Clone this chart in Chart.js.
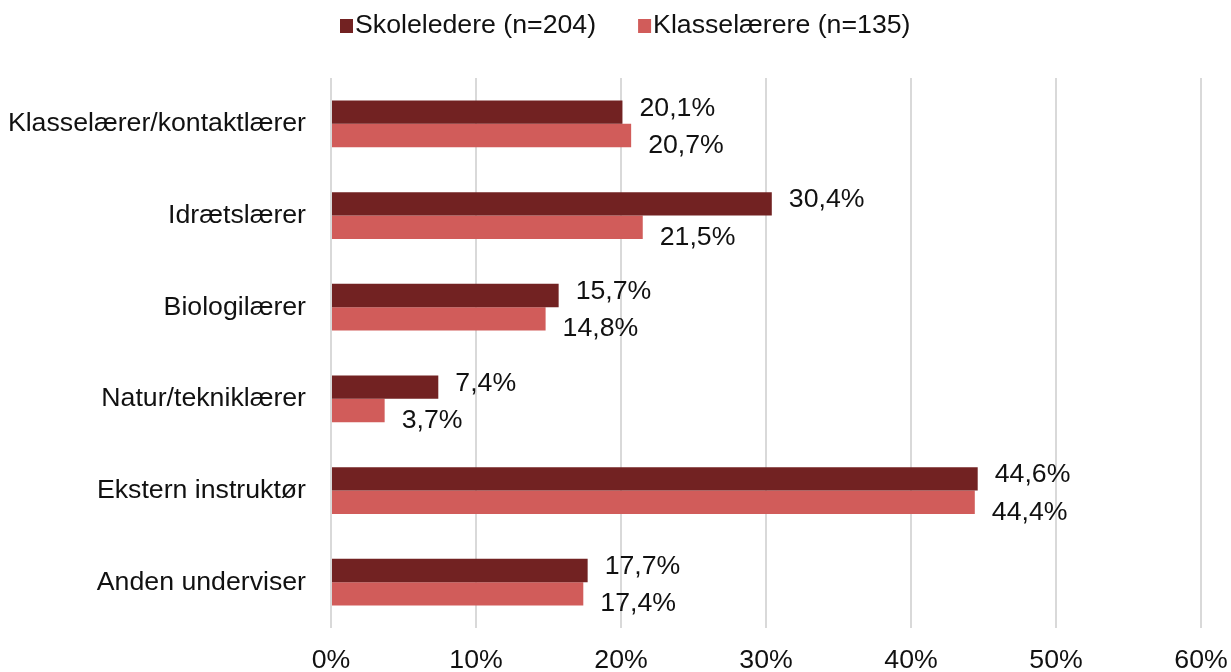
<!DOCTYPE html>
<html>
<head>
<meta charset="utf-8">
<script src="https://cdn.jsdelivr.net/npm/chart.js@4.4.1/dist/chart.umd.min.js"></script>
<style>
  html, body { margin: 0; padding: 0; background: #fff; }
  #wrap { width: 1231px; height: 672px; position: relative; }
</style>
</head>
<body>
<div id="wrap"><canvas id="myChart"></canvas></div>
<script>
// data
let categories = ['Klasselærer/kontaktlærer', 'Idrætslærer', 'Biologilærer', 'Natur/tekniklærer', 'Ekstern instruktør', 'Anden underviser'];
let skoleledere = [20.1, 30.4, 15.7, 7.4, 44.6, 17.7];
let klasselaerere = [20.7, 21.5, 14.8, 3.7, 44.4, 17.4];
let seriesNames = ['Skoleledere (n=204)', 'Klasselærere (n=135)'];
let xTicks = [0, 10, 20, 30, 40, 50, 60];

const FONT = "'Liberation Sans', Arial, sans-serif";
const darkRed = 'rgb(114,34,34)';
const lightRed = 'rgb(209,92,90)';

function fmt(v) {
  return v.toFixed(1).replace('.', ',') + '%';
}

// value labels next to each bar
const barLabels = {
  id: 'barLabels',
  afterDatasetsDraw(chart) {
    const c = chart.ctx;
    c.save();
    c.font = '26.7px ' + FONT;
    c.fillStyle = '#111';
    c.textBaseline = 'middle';
    c.textAlign = 'left';
    chart.data.datasets.forEach((ds, i) => {
      const meta = chart.getDatasetMeta(i);
      meta.data.forEach((bar, j) => {
        let dy = i == 0 ? -4 : 10;
        c.fillText(fmt(ds.data[j]), bar.x + 17, bar.y + dy);
      });
    });
    c.restore();
  }
};

// legend drawn by hand so the box/text gap matches
const topLegend = {
  id: 'topLegend',
  afterDraw(chart) {
    const c = chart.ctx;
    c.save();
    c.font = '26.7px ' + FONT;
    c.textBaseline = 'middle';
    c.textAlign = 'left';
    let x = 340;
    const y = 26;
    chart.data.datasets.forEach((ds) => {
      c.fillStyle = ds.backgroundColor;
      c.fillRect(x, y - 7, 13, 14);
      c.fillStyle = '#111';
      c.fillText(ds.label, x + 15, y);
      x += 15 + c.measureText(ds.label).width + 42;
    });
    c.restore();
  }
};

let ctx = document.getElementById('myChart');

const myChart = new Chart(ctx, {
  type: 'bar',
  data: {
    labels: categories,
    datasets: [{
      label: seriesNames[0],
      data: skoleledere,
      backgroundColor: darkRed,
      categoryPercentage: 0.51,
      barPercentage: 1
    }, {
      label: seriesNames[1],
      data: klasselaerere,
      backgroundColor: lightRed,
      categoryPercentage: 0.51,
      barPercentage: 1
    }]
  },
  options: {
    indexAxis: 'y',
    responsive: true,
    maintainAspectRatio: false,
    animation: false,
    layout: {
      padding: { top: 78, right: 30, left: 0, bottom: 0 }
    },
    plugins: {
      legend: { display: false },
      tooltip: { enabled: false }
    },
    scales: {
      x: {
        min: xTicks[0],
        max: xTicks[xTicks.length - 1],
        afterBuildTicks: (scale) => {
          scale.ticks = xTicks.map(v => ({ value: v }));
        },
        afterFit: (scale) => {
          scale.height = 44;
          scale.paddingLeft = 0;
          scale.paddingRight = 0;
        },
        border: { display: false },
        grid: { color: '#d9d9d9', lineWidth: 2, drawTicks: false },
        ticks: {
          padding: 17,
          color: '#111',
          font: { family: FONT, size: 26.7 },
          callback: (v) => v + '%'
        }
      },
      y: {
        afterFit: (scale) => { scale.width = 331; },
        border: { display: false },
        grid: { display: false, drawTicks: false },
        ticks: {
          padding: 25,
          color: '#111',
          font: { family: FONT, size: 26.7 }
        }
      }
    }
  },
  plugins: [barLabels, topLegend]
});
</script>
</body>
</html>
